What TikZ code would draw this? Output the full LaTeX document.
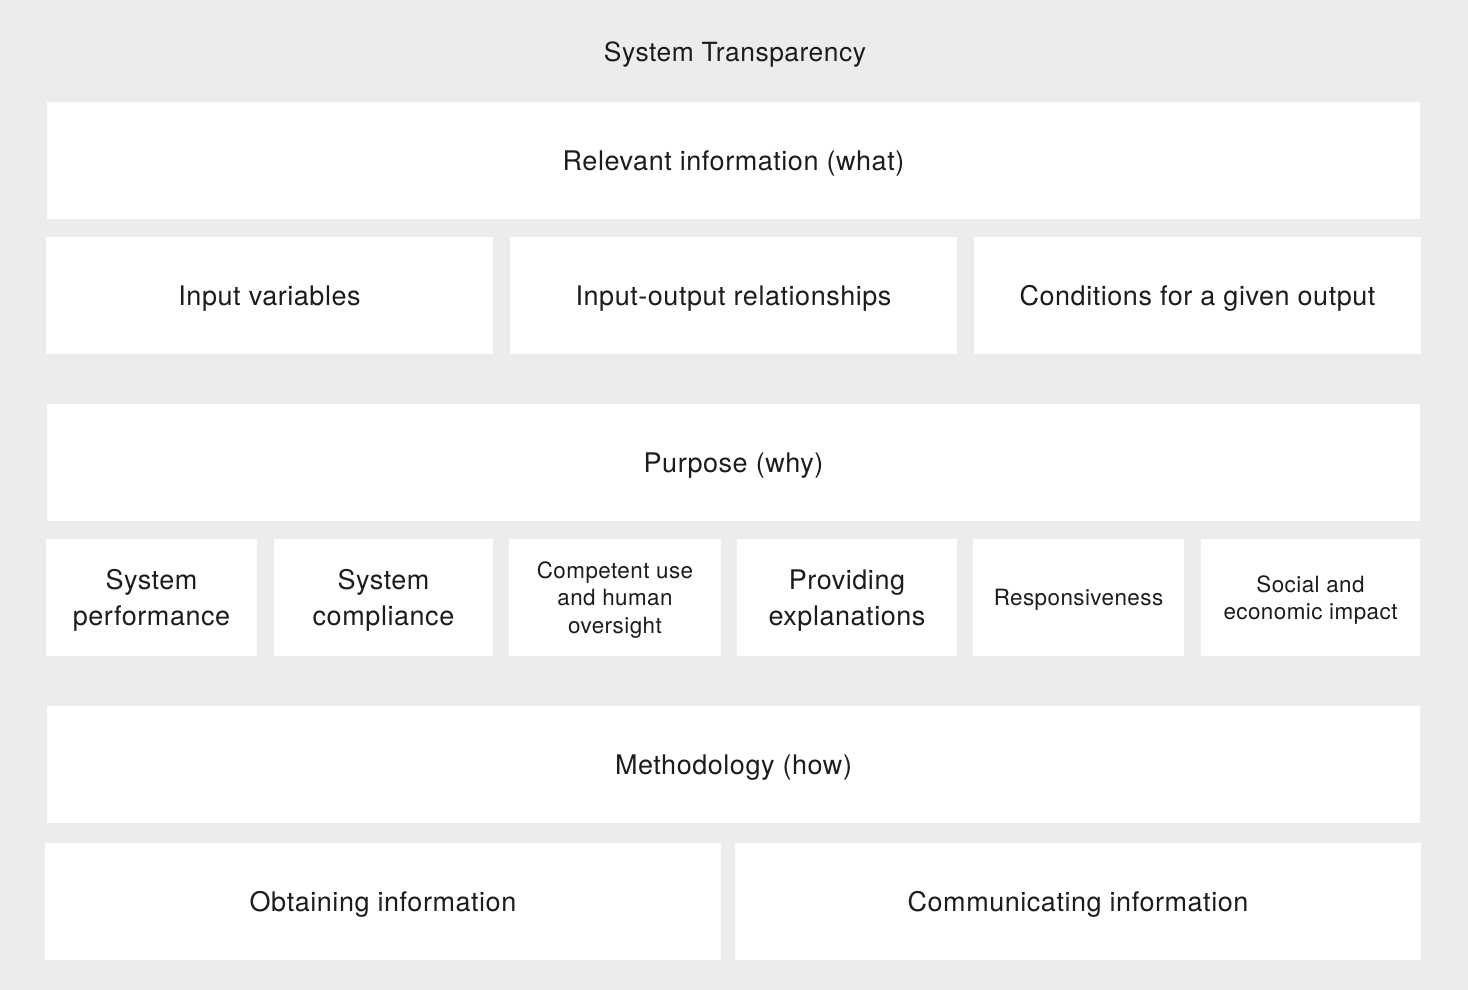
\documentclass[tikz,border=0pt]{standalone}
\usepackage{fontspec}
\setmainfont{TeX Gyre Heros}[LetterSpace=2]
\definecolor{paper}{HTML}{ECECEC}
\definecolor{ink}{HTML}{1C1C1C}

\begin{document}
\begin{tikzpicture}[x=1pt,y=-1pt,
        cell/.style={fill=white, inner sep=0pt, text=ink, align=center, text depth=0pt,
                minimum height=117pt, font=\fontsize{27}{27.5}\selectfont},
        bigtext/.style={font=\fontsize{27}{36}\selectfont},
        smalltext/.style={font=\fontsize{22.4}{27.5}\selectfont}]
        \fill[paper] (0,0) rectangle (1468,990);
        \node (title) [text=ink, inner sep=0pt, text depth=0pt, font=\fontsize{26.4}{27.5}\selectfont] at (735, 52) {System Transparency};
        % what
        \node (what) [cell, minimum width=1373pt] at (733.5, 160.5) {Relevant information (what)};
        \node (inVar) [cell, minimum width=447pt] at (269.5, 295.5) {Input variables};
        \node (ioRel) [cell, minimum width=447pt] at (733.5, 295.5) {Input-output relationships};
        \node (cond) [cell, minimum width=447pt] at (1197.5, 295.5) {Conditions for a given output};
        % why
        \node (why) [cell, minimum width=1373pt] at (733.5, 462.5) {Purpose (why)};
        \node (perf) [cell, bigtext, minimum width=211pt] at (151.5, 597.5) {System\\performance};
        \node (compl) [cell, bigtext, minimum width=219pt] at (383.5, 597.5) {System\\compliance};
        \node (oversight) [cell, smalltext, minimum width=212pt] at (615, 597.5) {Competent use\\and human\\oversight};
        \node (expl) [cell, bigtext, minimum width=220pt] at (847, 597.5) {Providing\\explanations};
        \node (resp) [cell, smalltext, minimum width=211pt] at (1078.5, 597.5) {Responsiveness};
        \node (impact) [cell, smalltext, minimum width=219pt] at (1310.5, 597.5) {Social and\\economic impact};
        % how
        \node (how) [cell, minimum width=1373pt] at (733.5, 764.5) {Methodology (how)};
        \node (obtain) [cell, minimum width=676pt] at (383, 901.5) {Obtaining information};
        \node (comm) [cell, minimum width=686pt] at (1078, 901.5) {Communicating information};
\end{tikzpicture}
\end{document}
